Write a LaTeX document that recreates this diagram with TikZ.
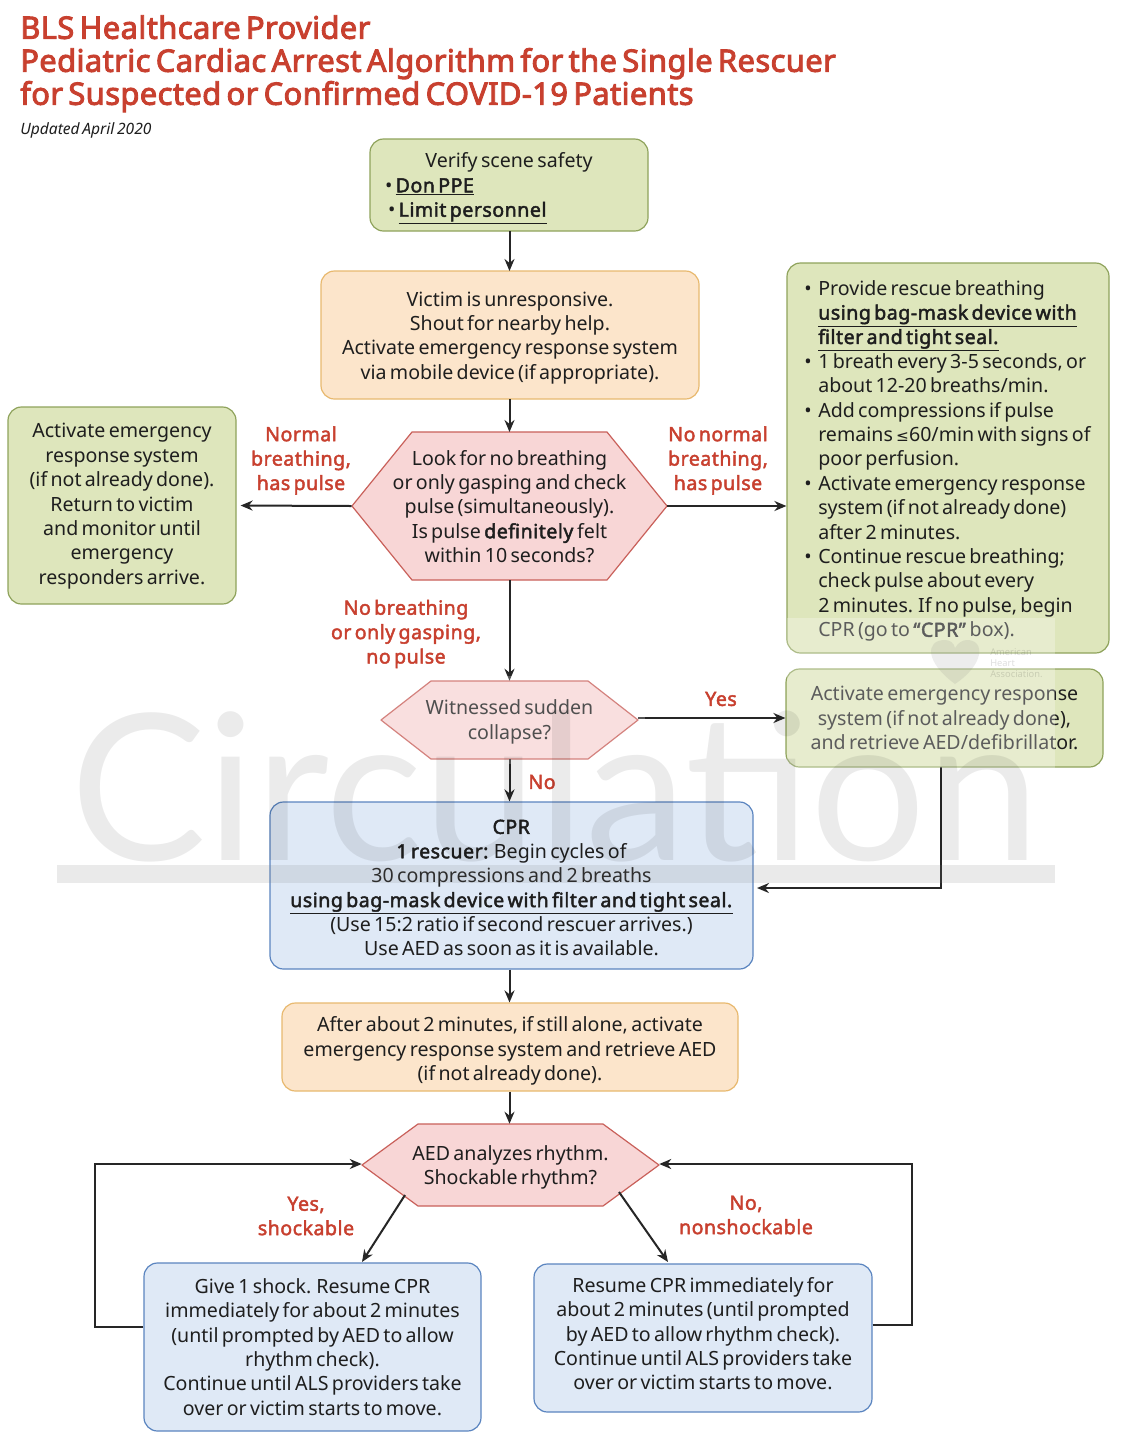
\documentclass[tikz,border=0pt]{standalone}
\usepackage{fontspec}
\setmainfont{Noto Sans}[BoldFont={Noto Sans},BoldFeatures={FakeBold=2.2,LetterSpace=2.5}]
\newfontfamily\titlefont{Noto Sans}[FakeBold=3,LetterSpace=1.2]
\newfontfamily\wmfont{Lato}
\newfontfamily\symfont{DejaVu Sans}[Scale=0.78]
\usetikzlibrary{arrows.meta}
\definecolor{grnF}{HTML}{DEE6BC}\definecolor{grnD}{HTML}{8FA35C}
\definecolor{orgF}{HTML}{FCE5CB}\definecolor{orgD}{HTML}{E8B96F}
\definecolor{pnkF}{HTML}{F8D6D6}\definecolor{pnkD}{HTML}{C9605A}
\definecolor{bluF}{HTML}{DFE9F6}\definecolor{bluD}{HTML}{5B85C0}
\definecolor{redT}{HTML}{C8402F}\definecolor{txt}{HTML}{1E1E1E}
\newcommand{\tight}{\spaceskip=0.17em plus 0.05em minus 0.02em\relax}
\newcommand{\dn}[1]{\rule{0pt}{\dimexpr 10.5pt+#1pt*3/2\relax}}
\newcommand{\upp}[1]{\rule[\dimexpr -3pt-#1pt*3/2\relax]{0pt}{1pt}}
\tikzset{
 x=0.75pt,y=-0.75pt,
 body/.style={font=\fontsize{14.7}{18.3}\selectfont\tight,text=txt,align=center,inner sep=0pt},
 rbox/.style={body,draw,rounded corners=13.5pt*0.75,line width=0.9pt},
 grn/.style={rbox,fill=grnF,draw=grnD},
 org/.style={rbox,fill=orgF,draw=orgD},
 blu/.style={rbox,fill=bluF,draw=bluD},
 lbl/.style={font=\fontsize{14.7}{18.3}\selectfont\bfseries\tight,text=redT,align=center,inner sep=0pt},
 title/.style={font=\titlefont\fontsize{23.2}{24.75}\selectfont\tight,text=redT,align=left,inner sep=0pt,anchor=north west},
 conn/.style={line width=1.5pt,draw=black!85,-{Stealth[length=9pt,width=7.5pt]}},
 gap/.style={shorten >=3pt},
}
% name, cx, cy, half-w, half-h, inset, text
\newcommand{\hexnode}[7]{%
 \fill[pnkF,draw=pnkD,line width=0.9pt,line join=round]
   (#2-#4,#3) -- (#2-#4+#6,#3-#5) -- (#2+#4-#6,#3-#5) -- (#2+#4,#3) -- (#2+#4-#6,#3+#5) -- (#2-#4+#6,#3+#5) -- cycle;
 \node[body,minimum width=#4*1.5pt,minimum height=#5*1.5pt] (#1) at (#2,#3) {#7};}
\newcommand{\ubf}[1]{\underline{\textbf{#1}}}
\newcommand{\bul}{\makebox[10.5pt][l]{•}}
\newcommand{\ind}{\hspace*{10.5pt}}
\begin{document}
\begin{tikzpicture}
\useasboundingbox (0,0) rectangle (1125,1454);
\fill[white] (0,0) rectangle (1125,1454);
\node[title] (ttl) at (20,15) {BLS Healthcare Provider\\Pediatric Cardiac Arrest Algorithm for the Single Rescuer\\for Suspected or Confirmed COVID-19 Patients};
\node[anchor=west,inner sep=0pt,font=\fontsize{11.7}{14}\selectfont\itshape\tight,text=txt] (upd) at (20,130) {Updated April 2020};

\node[grn,minimum width=208.5pt,minimum height=69pt] (b1) at (509,185) {\dn{4}Verify scene safety\\\makebox[186pt][l]{• \ubf{Don PPE}}\\\makebox[181.5pt][l]{• \ubf{Limit personnel}}};
\node[org,minimum width=283.5pt,minimum height=96pt] (b2) at (510,335) {\dn{3}Victim is unresponsive.\\Shout for nearby help.\\Activate emergency response system\\via mobile device (if appropriate).};
\hexnode{d1}{509.5}{506}{157.5}{74}{60}{\dn{1}Look for no breathing\\or only gasping and check\\pulse (simultaneously).\\Is pulse \textbf{definitely} felt\\within 10 seconds?}
\node[grn,minimum width=171pt,minimum height=147.75pt] (b3) at (122,505.5) {\dn{1}Activate emergency\\response system\\(if not already done).\\Return to victim\\and monitor until\\emergency\\responders arrive.};
\node[grn,minimum width=241.5pt,minimum height=292.5pt] (b4) at (948,458) {};
\node[body,align=left,anchor=north west] (b4t) at (804,280) {\bul Provide rescue breathing\\\ind\ubf{using bag-mask device with}\\\ind\ubf{filter and tight seal.}\\\bul 1 breath every 3-5 seconds, or\\\ind about 12-20 breaths/min.\\\bul Add compressions if pulse\\\ind remains {\symfont ≤}60/min with signs of\\\ind poor perfusion.\\\bul Activate emergency response\\\ind system (if not already done)\\\ind after 2 minutes.\\\bul Continue rescue breathing;\\\ind check pulse about every\\\ind 2 minutes. If no pulse, begin\\\ind CPR (go to \textbf{“CPR”} box).};
\hexnode{d2}{509.5}{720}{128.5}{39}{50}{\dn{2.5}Witnessed sudden\\collapse?}
\node[grn,minimum width=237.75pt,minimum height=73.5pt] (b5) at (944.5,718) {Activate emergency response\\system (if not already done),\\and retrieve AED/defibrillator.};
\node[blu,minimum width=362.25pt,minimum height=125.25pt] (cpr) at (511.5,885.5) {\dn{2.5}\textbf{CPR}\\\textbf{1 rescuer:} Begin cycles of\\30 compressions and 2 breaths\\\ubf{using bag-mask device with filter and tight seal.}\\(Use 15:2 ratio if second rescuer arrives.)\\Use AED as soon as it is available.};
\node[org,minimum width=342pt,minimum height=66pt] (b6) at (510,1047) {\dn{4.5}After about 2 minutes, if still alone, activate\\emergency response system and retrieve AED\\(if not already done).};
\hexnode{d3}{510.5}{1165}{148.5}{41}{56}{\dn{3}AED analyzes rhythm.\\Shockable rhythm?}
\node[blu,minimum width=252.75pt,minimum height=126pt] (b7) at (312.5,1347) {Give 1 shock. Resume CPR\\immediately for about 2 minutes\\(until prompted by AED to allow\\rhythm check).\\Continue until ALS providers take\\over or victim starts to move.};
\node[blu,minimum width=253.5pt,minimum height=111pt] (b8) at (703,1338) {Resume CPR immediately for\\about 2 minutes (until prompted\\by AED to allow rhythm check).\\Continue until ALS providers take\\over or victim starts to move.\upp{2.5}};

\node[lbl] (l1) at (301,460.5) {Normal\\breathing,\\has pulse};
\node[lbl] (l2) at (718,460.5) {No normal\\breathing,\\has pulse};
\node[lbl] (l3) at (406,634) {No breathing\\or only gasping,\\no pulse};
\node[lbl] (l4) at (721,699) {Yes};
\node[lbl] (l5) at (542,782) {No};
\node[lbl] (l6) at (306,1216) {Yes,\\shockable};
\node[lbl] (l7) at (746,1215) {No,\\nonshockable};

\coordinate (c1s) at (405,1195);\coordinate (c1e) at (362,1262);
\coordinate (c2s) at (619,1192);\coordinate (c2e) at (668,1262);
\coordinate (lt) at (95,1164);\coordinate (lb) at (95,1327);
\coordinate (rt) at (912,1164);\coordinate (rb) at (912,1325);
\coordinate (k) at (941,888);\coordinate (k0) at (941,767);
\coordinate (ce) at (753,888);
\draw[conn] (509.5,231) -- (509.5,271);
\draw[conn] (509.5,399) -- (509.5,432);
\draw[conn,gap] (d1.west) -- (b3.east);
\draw[conn] (d1.east) -- (b4.west|-d1.east);
\draw[conn] (d1.south) -- (d2.north);
\draw[conn] (d2.east|-b5.west) -- (b5.west);
\draw[conn] (d2.south) -- (d2.south|-cpr.north);
\draw[conn,gap] (k0) -- (k) -- (ce);
\draw[conn] (cpr.south-|d1.south) -- (b6.north-|d1.south);
\draw[conn] (b6.south-|d1.south) -- (d3.north-|d1.south);
\draw[conn] (c1s) -- (c1e);
\draw[conn] (c2s) -- (c2e);
\draw[conn] (b7.west|-lb) -- (lb) -- (lt) -- (d3.west|-lt);
\draw[conn] (b8.east|-rb) -- (rb) -- (rt) -- (d3.east|-rt);

% watermark
\fill[white,opacity=0.28] (787,618) rectangle (1055,768);
\fill[white,opacity=0.22] (375,676) rectangle (645,764);
\fill[gray,opacity=0.16] (57,865) rectangle (1055,883);
\node[inner sep=0pt,anchor=base west,opacity=0.08,text=black] (wm) at (70,860) {\fontsize{153}{153}\wmfont Circulation};
\fill[gray,opacity=0.14] (955,684) .. controls (925,662) and (925,640) .. (945,640) .. controls (950,640) and (954,643) .. (955,648) .. controls (958,643) and (962,640) .. (967,640) .. controls (985,640) and (985,664) .. cycle;
\node[inner sep=0pt,anchor=west,opacity=0.13,text=black,align=left,font=\fontsize{7}{8.5}\selectfont] (aha) at (990,663) {American\\Heart\\Association.};
\end{tikzpicture}
\end{document}
